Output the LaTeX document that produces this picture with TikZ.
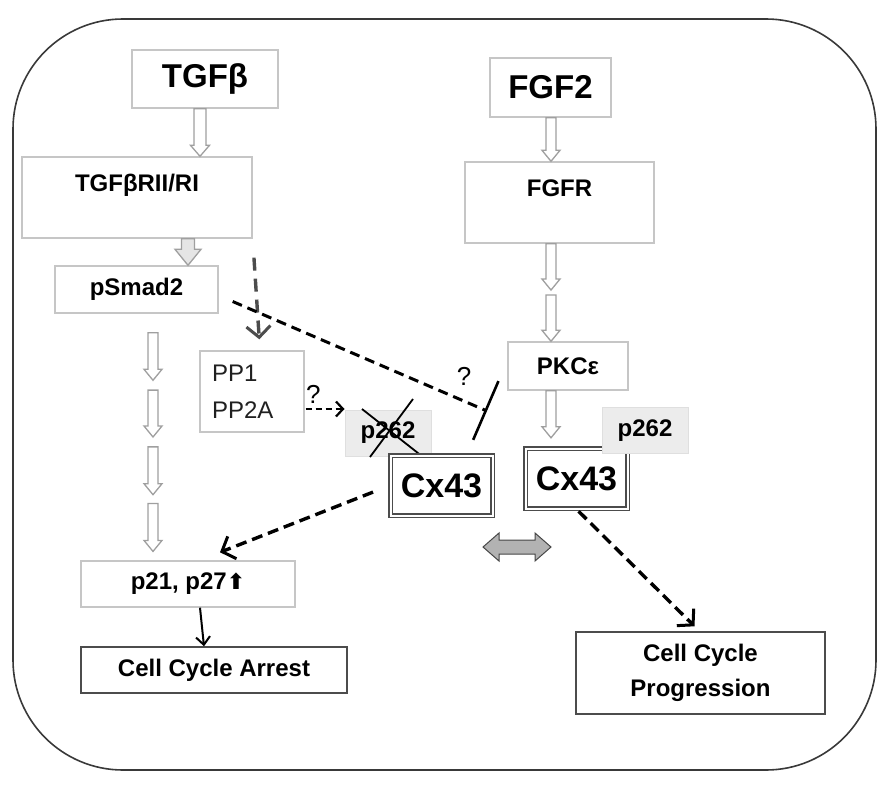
\documentclass[tikz,border=0pt]{standalone}
\usepackage{fontspec}
\setmainfont{Liberation Sans}
\newfontfamily\symfont{DejaVu Sans}
\usetikzlibrary{calc,arrows.meta}

% hollow block arrow pointing down: style, top, tip, half shaft, half head, head length
\newcommand{\blockdn}[6][]{%
  \draw[#1] ($(#2)+(-#4,0)$) -- ($(#3)+(-#4,-#6)$) -- ($(#3)+(-#5,-#6)$) -- (#3)
    -- ($(#3)+(#5,-#6)$) -- ($(#3)+(#4,-#6)$) -- ($(#2)+(#4,0)$) -- cycle;}

\begin{document}
\begin{tikzpicture}[x=1pt,y=-1pt,
  box/.style={draw=gray!45, line width=1.4pt, fill=white, inner sep=0pt,
    font=\fontsize{24}{29}\selectfont\bfseries},
  bigbox/.style={box, font=\fontsize{33}{36}\selectfont\bfseries},
  pbox/.style={draw=gray!25, fill=gray!15, line width=1pt, inner sep=0pt,
    minimum width=86, minimum height=46, font=\fontsize{24}{29}\selectfont\bfseries},
  cxbox/.style={draw=gray!60!black, double=white, double distance=2pt, line width=1.4pt,
    fill=white, inner sep=0pt, minimum width=102, minimum height=60,
    font=\fontsize{34}{38}\selectfont\bfseries},
  hollow/.style={draw=gray!75, line width=1.3pt, fill=white},
  dasharr/.style={line width=3.4pt, dash pattern=on 11pt off 6pt,
    -{Straight Barb[length=11pt,width=24pt,line width=3pt]}},
  thinarr/.style={line width=2.2pt, dash pattern=on 6pt off 4pt,
    -{Straight Barb[length=7pt,width=15pt,line width=2.2pt]}},
  qmark/.style={font=\fontsize{26}{28}\selectfont, inner sep=2pt}]
\useasboundingbox (0,0) rectangle (892,792);

% cell outline
\draw[gray!45!black, line width=1.6pt, rounded corners=110pt] (13,19) rectangle (876,770);

% TGFb branch
\node[bigbox, minimum width=146, minimum height=58] (tgfb) at (205,79) {TGFβ};
\node[box, minimum width=230, minimum height=81, align=center] (tgfbr) at (137,197.5) {TGFβRII/RI\\\mbox{}};
\node[box, minimum width=163, minimum height=47] (psmad) at (136.5,289.5) {pSmad2};
\node[box, minimum width=104, minimum height=81, text width=80, align=left,
  font=\fontsize{24}{37}\selectfont, text=gray!25!black] (pp) at (252,391.5) {PP1\\PP2A};
\node[box, minimum width=214, minimum height=46] (p21) at (188,584) {p21, p27{\symfont\fontsize{22}{26}\selectfont ⬆}};
\node[box, draw=gray!60!black, minimum width=266, minimum height=46] (arrest) at (214,670) {Cell Cycle Arrest};

% FGF2 branch
\node[bigbox, minimum width=121, minimum height=59] (fgf2) at (550.5,87.5) {FGF2};
\node[box, minimum width=189, minimum height=81, align=center] (fgfr) at (559.5,202.5) {FGFR\\\mbox{}};
\node[box, minimum width=120, minimum height=48] (pkc) at (568,366) {PKCε};
\node[box, draw=gray!60!black, minimum width=249, minimum height=82, align=center,
  font=\fontsize{24}{35}\selectfont\bfseries] (prog) at (700.5,673) {Cell Cycle\\Progression};

% Cx43, unphosphorylated and phosphorylated
\node[pbox] (pl) at (388,433) {p262};
\draw[line width=1.8pt] ([shift={(-26,-24)}]pl.center) -- ([shift={(35,24)}]pl.center);
\draw[line width=1.8pt] ([shift={(25,-34)}]pl.center) -- ([shift={(-18,24)}]pl.center);
\node[cxbox] (cxl) at (441.5,485.5) {Cx43};
\node[cxbox] (cxr) at (576.5,478.5) {Cx43};
\node[pbox] (pr) at (645,430.5) {p262};

% block arrows
\coordinate (a1) at (200,0 |- tgfb.south);
\coordinate (a2) at (200,0 |- tgfbr.north);
\blockdn[hollow]{a1}{a2}{6}{9.5}{11}
\coordinate (a3) at (188,0 |- tgfbr.south);
\coordinate (a4) at (188,0 |- psmad.north);
\blockdn[hollow, fill=gray!20]{a3}{a4}{6.5}{13}{16}
\foreach \f/\g in {0.077/0.27,0.31/0.5,0.54/0.734,0.77/0.964}{
  \coordinate (s) at ($(153,0 |- psmad.south)!\f!(153,0 |- p21.north)$);
  \coordinate (e) at ($(153,0 |- psmad.south)!\g!(153,0 |- p21.north)$);
  \blockdn[hollow]{s}{e}{5}{9}{11}
}
\coordinate (b1) at (551,0 |- fgf2.south);
\coordinate (b2) at (551,0 |- fgfr.north);
\blockdn[hollow]{b1}{b2}{5}{9}{11}
\foreach \f/\g in {0/0.475,0.525/1}{
  \coordinate (s) at ($(551,0 |- fgfr.south)!\f!(551,0 |- pkc.north)$);
  \coordinate (e) at ($(551,0 |- fgfr.south)!\g!(551,0 |- pkc.north)$);
  \blockdn[hollow]{s}{e}{5}{9}{11}
}
\coordinate (b3) at (551,0 |- pkc.south);
\coordinate (b4) at ($(551,0 |- cxr.north)+(0,-10)$);
\blockdn[hollow]{b3}{b4}{5}{9}{11}

% exchange between the two forms
\draw[gray!55!black, fill=gray!60, line width=1pt]
  (483,547) -- (499,533) -- (499,540) -- (535,540) -- (535,533) -- (551,547)
  -- (535,561) -- (535,554) -- (499,554) -- (499,561) -- cycle;

% dashed connectors
\draw[dasharr, gray!60!black, dash pattern=on 13pt off 8pt, shorten <=19pt, shorten >=11pt]
  (tgfbr.south east) -- ([xshift=8pt]pp.north);
\coordinate (inh) at (487,411);
\draw[line width=3pt, dash pattern=on 10pt off 6pt, -{Bar[width=64pt,line width=2.6pt]}]
  ([shift={(14,12)}]psmad.east) -- (inh) node[qmark, pos=0.91, above=12pt] {?};
\draw[thinarr] ([shift={(1,17.5)}]pp.east) -- ([shift={(0,-24)}]pl.west)
  node[qmark, pos=0.2, above=2pt] {?};
\draw[dasharr, shorten <=18pt] (cxl.west) -- ([shift={(32,-8)}]p21.north);
\draw[dasharr, shorten <=3pt] (cxr.south) -- ([shift={(-6,-5)}]prog.north);
\draw[line width=2pt, -{Straight Barb[length=8pt,width=14pt,line width=2pt]}]
  ([xshift=12pt]p21.south) -- ([xshift=-10pt]arrest.north);
\end{tikzpicture}
\end{document}
